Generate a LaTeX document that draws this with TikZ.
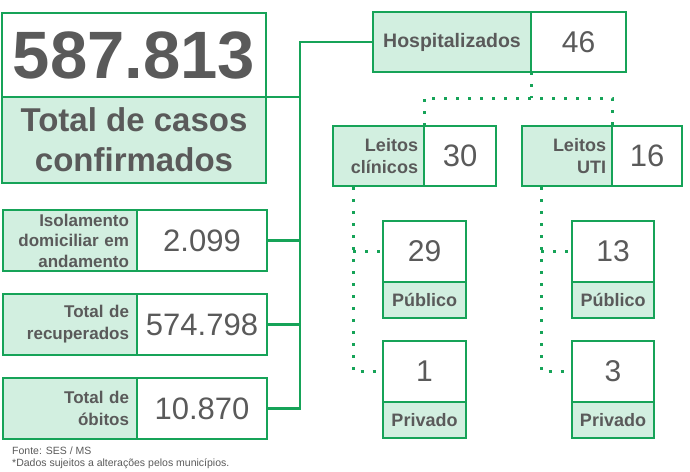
\documentclass[tikz,border=0pt]{standalone}
\usepackage{fontspec}
\setmainfont{Liberation Sans}
\definecolor{gline}{RGB}{22,163,88}
\definecolor{gfill}{RGB}{210,239,224}
\definecolor{tgrey}{RGB}{90,90,90}
\newcommand{\myfs}[2]{\fontsize{#1}{#2}\selectfont}
\begin{document}
\begin{tikzpicture}[x=1pt,y=-1pt,
 cell/.style={draw=gline, line width=2.8pt, inner xsep=6pt, inner ysep=0pt, outer sep=0pt, anchor=north west, text=tgrey, align=center},
 lab/.style={cell, fill=gfill, font=\bfseries},
 val/.style={cell, fill=white},
 conn/.style={draw=gline, line width=2.8pt},
 dots/.style={draw=gline, line width=3pt, dash pattern=on 3pt off 9pt},
 foot/.style={anchor=base west, text=tgrey, font=\myfs{10.5}{12}, inner sep=0pt},
]
\useasboundingbox (0,0) rectangle (690,471);

% big box
\node[val, minimum width=264pt, minimum height=84pt, font=\bfseries\myfs{67}{67}] (bignum) at (2,13) {587.813};
\node[lab, minimum width=264pt, minimum height=86pt, font=\bfseries\myfs{33}{40}] (bigtxt) at (2,97) {Total de casos\\confirmados};

% left column
\node[lab, inner xsep=8pt, text width=118pt, align=right, minimum height=61pt, font=\bfseries\myfs{17}{20.5}] (isolab) at (3,210) {Isolamento\\domiciliar em\\andamento};
\node[val, minimum width=130pt, minimum height=61pt, font=\myfs{31}{31}] (isoval) at (137,210) {2.099};
\node[lab, inner xsep=8pt, text width=118pt, align=right, minimum height=61pt, font=\bfseries\myfs{17}{22}] (reclab) at (3,294) {Total de\\recuperados};
\node[val, minimum width=130pt, minimum height=61pt, font=\myfs{31}{31}] (recval) at (137,294) {574.798};
\node[lab, inner xsep=8pt, text width=118pt, align=right, minimum height=61pt, font=\bfseries\myfs{17}{22}] (oblab) at (3,378) {Total de\\óbitos};
\node[val, minimum width=130pt, minimum height=61pt, font=\myfs{31}{31}] (obval) at (137,378) {10.870};

% hospitalizados
\node[lab, minimum width=158pt, minimum height=60pt, font=\bfseries\myfs{19.5}{22}] (hosplab) at (373,12) {Hospitalizados};
\node[val, minimum width=95pt, minimum height=60pt, font=\myfs{30}{30}] (hospval) at (531,12) {46};

% leitos
\node[lab, text width=79pt, align=right, minimum height=60pt, font=\bfseries\myfs{18}{22}] (clinlab) at (333,126) {Leitos\\clínicos};
\node[val, minimum width=72pt, minimum height=60pt, font=\myfs{31}{31}] (clinval) at (424,126) {30};
\node[lab, text width=78pt, align=right, minimum height=60pt, font=\bfseries\myfs{18}{22}] (utilab) at (522,126) {Leitos\\UTI};
\node[val, minimum width=70pt, minimum height=60pt, font=\myfs{31}{31}] (utival) at (612,126) {16};

% public / private
\node[val, minimum width=83pt, minimum height=61pt, font=\myfs{30}{30}] (c29) at (383,221) {29};
\node[lab, minimum width=83pt, minimum height=36pt, font=\bfseries\myfs{18}{18}] (c29l) at (383,282) {Público};
\node[val, minimum width=83pt, minimum height=61pt, font=\myfs{30}{30}] (c1) at (383,341) {1};
\node[lab, minimum width=83pt, minimum height=36pt, font=\bfseries\myfs{18}{18}] (c1l) at (383,402) {Privado};
\node[val, minimum width=82pt, minimum height=61pt, font=\myfs{30}{30}] (c13) at (572,221) {13};
\node[lab, minimum width=82pt, minimum height=36pt, font=\bfseries\myfs{18}{18}] (c13l) at (572,282) {Público};
\node[val, minimum width=82pt, minimum height=61pt, font=\myfs{30}{30}] (c3) at (572,341) {3};
\node[lab, minimum width=82pt, minimum height=36pt, font=\bfseries\myfs{18}{18}] (c3l) at (572,402) {Privado};

% solid connectors
\coordinate (trunk) at (300,42);
\draw[conn] (hosplab.west) -- (trunk) -- (trunk |- obval.east) -- (obval.east);
\draw[conn] (bignum.south east) -- (bignum.south east -| trunk);
\draw[conn] (isoval.east) -- (isoval.east -| trunk);
\draw[conn] (recval.east) -- (recval.east -| trunk);

% dotted connectors
\coordinate (hub) at (531,98);
\draw[dots] (hosplab.south east) -- (hub);
\draw[dots] (clinlab.north east) -- (clinlab.north east |- hub) -- (utilab.north east |- hub) -- (utilab.north east);
\coordinate (lx) at (353,187);
\coordinate (rx) at (541,187);
\draw[dots] (lx) |- (c1.west);
\draw[dots] (lx |- c29.west) -- (c29.west);
\draw[dots] (rx) |- (c3.west);
\draw[dots] (rx |- c13.west) -- (c13.west);

% footer
\node[foot] (src) at (12,454) {Fonte: SES / MS};
\node[foot] (note) at (12,466) {*Dados sujeitos a alterações pelos municípios.};
\end{tikzpicture}
\end{document}
